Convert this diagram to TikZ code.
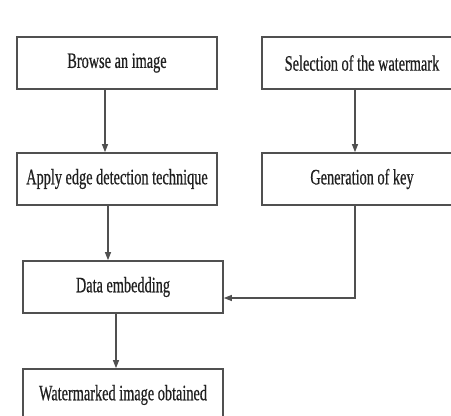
\documentclass[tikz,border=0pt]{standalone}
\usepackage{fontspec}
\setmainfont{Liberation Serif}[FakeStretch=0.65,FakeBold=0.5]
\usetikzlibrary{arrows.meta,positioning}
\definecolor{lineg}{HTML}{505050}
\definecolor{textg}{HTML}{202020}
\tikzset{
  stepbox/.style={draw=lineg, line width=1.6pt, minimum width=200pt, minimum height=52pt,
    inner sep=0pt, text=textg, font=\fontsize{22}{25}\selectfont},
  flow/.style={draw=lineg, line width=1.1pt, -{Triangle[length=8pt,width=6pt]}}
}

\begin{document}
\begin{tikzpicture}[x=1pt,y=-1pt]
\useasboundingbox[fill=white] (0,0) rectangle (451,416);
% left column
\node[stepbox] (browse) at (117,63) {Browse an image};
\node[stepbox] (edge) at (117,179) {Apply edge detection technique};
\node[stepbox] (embed) at (123,287) {Data embedding};
\node[stepbox] (result) at (123,395) {Watermarked image obtained};
% right column
\node[stepbox] (select) at (362,63) {Selection of the watermark};
\node[stepbox] (keygen) at (362,179) {Generation of key};

\draw[flow] ([xshift=-12pt]browse.south) -- ([xshift=-12pt]browse.south |- edge.north);
\draw[flow] ([xshift=-7pt]select.south) -- ([xshift=-7pt]select.south |- keygen.north);
\draw[flow] ([xshift=-9pt]edge.south) -- ([xshift=-9pt]edge.south |- embed.north);
\draw[flow] ([xshift=-7pt]embed.south) -- ([xshift=-7pt]embed.south |- result.north);
\draw[flow] ([xshift=-7pt]keygen.south) |- ([yshift=-11pt]embed.east);
\end{tikzpicture}
\end{document}
